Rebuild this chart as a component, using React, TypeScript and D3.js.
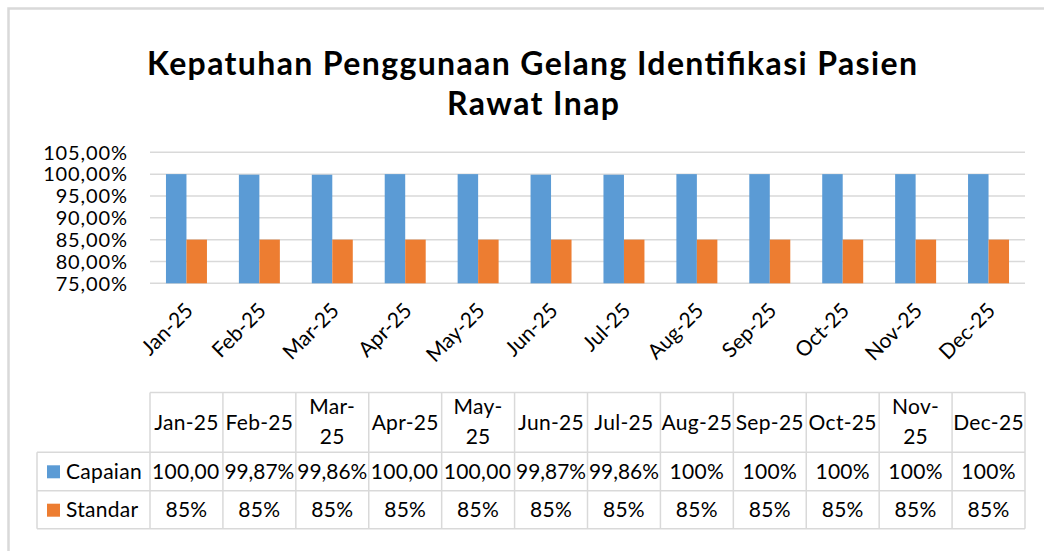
import React, { useEffect, useRef } from "react";
import * as d3 from "d3";

const title1 = "Kepatuhan Penggunaan Gelang Identifikasi Pasien";
const title2 = "Rawat Inap";
const months = ["Jan-25", "Feb-25", "Mar-25", "Apr-25", "May-25", "Jun-25", "Jul-25", "Aug-25", "Sep-25", "Oct-25", "Nov-25", "Dec-25"];
const wrappedHeaders = ["Mar-25", "May-25", "Nov-25"];
const seriesNames = ["Capaian", "Standar"];
const capaian = [100, 99.87, 99.86, 100, 100, 99.87, 99.86, 100, 100, 100, 100, 100];
const standar = [85, 85, 85, 85, 85, 85, 85, 85, 85, 85, 85, 85];
const capaianLabels = ["100,00%", "99,87%", "99,86%", "100,00%", "100,00%", "99,87%", "99,86%", "100%", "100%", "100%", "100%", "100%"];
const standarLabels = ["85%", "85%", "85%", "85%", "85%", "85%", "85%", "85%", "85%", "85%", "85%", "85%"];
const yTicks = [75, 80, 85, 90, 95, 100, 105];
const colors = ["#5b9bd5", "#ed7d31"];

const FONT = "Lato, 'Liberation Sans', sans-serif";

export default function App() {
  const ref = useRef<SVGSVGElement | null>(null);
  useEffect(() => {
    const svg = d3.select(ref.current);
    svg.selectAll("*").remove();
    const grid = "#d9d9d9";

    // chart border
    svg.append("rect").attr("x", 8.5).attr("y", 8.5).attr("width", 1100).attr("height", 600)
      .attr("fill", "#fff").attr("stroke", grid).attr("stroke-width", 2.5);

    // title
    const t = svg.append("g").attr("font-family", FONT).attr("font-weight", "bold")
      .attr("font-size", 32).attr("fill", "#000").attr("text-anchor", "middle");
    t.append("text").attr("x", 532).attr("y", 75).attr("textLength", 770).attr("lengthAdjust", "spacing").text(title1);
    t.append("text").attr("x", 533).attr("y", 115).attr("textLength", 172).attr("lengthAdjust", "spacing").text(title2);

    const x = d3.scaleBand<string>().domain(months).range([150, 1025]);
    const y = d3.scaleLinear().domain([75, 105]).range([283.3, 152.3]);
    const bw = x.bandwidth() * 0.281;

    // gridlines
    svg.append("g").selectAll("line").data(yTicks).join("line")
      .attr("x1", 150).attr("x2", 1025).attr("y1", d => y(d)).attr("y2", d => y(d))
      .attr("stroke", grid).attr("stroke-width", 1.5);

    // y labels
    svg.append("g").selectAll("text").data(yTicks).join("text")
      .attr("x", 128).attr("y", d => y(d)).attr("dy", "0.36em").attr("text-anchor", "end")
      .attr("font-family", FONT).attr("font-size", 20).attr("letter-spacing", 0.9).attr("fill", "#000")
      .text(d => d3.format(".2f")(d).replace(".", ",") + "%");

    // bars
    const series = [capaian, standar];
    series.forEach((vals, si) => {
      svg.append("g").selectAll("rect").data(months).join("rect")
        .attr("x", (m) => (x(m) as number) + x.bandwidth() / 2 - bw + si * bw)
        .attr("width", bw)
        .attr("y", (m, i) => y(vals[i]))
        .attr("height", (m, i) => y(75) - y(vals[i]))
        .attr("fill", colors[si]);
    });

    // rotated x labels
    svg.append("g").selectAll("text").data(months).join("text")
      .attr("transform", m => `translate(${(x(m) as number) + x.bandwidth() / 2 + 8},${312}) rotate(-45)`)
      .attr("text-anchor", "end").attr("font-family", FONT).attr("font-size", 21).attr("fill", "#000")
      .text(m => m);

    // data table
    const tTop = 392.5, r1 = 452.3, r2 = 490.7, r3 = 528.7, left = 37;
    const tg = svg.append("g");
    tg.append("line").attr("x1", 150).attr("x2", 1025).attr("y1", tTop).attr("y2", tTop);
    [r1, r2, r3].forEach(yy => tg.append("line").attr("x1", left).attr("x2", 1025).attr("y1", yy).attr("y2", yy));
    tg.append("line").attr("x1", left).attr("x2", left).attr("y1", r1).attr("y2", r3);
    const edges = months.map(m => x(m) as number).concat([1025]);
    edges.forEach(xx => tg.append("line").attr("x1", xx).attr("x2", xx).attr("y1", tTop).attr("y2", r3));
    tg.selectAll("line").attr("stroke", grid).attr("stroke-width", 1.5);

    const fs = 21;
    const ls = 0.3;
    // header cells
    months.forEach((m) => {
      const cx = (x(m) as number) + x.bandwidth() / 2;
      const txt = tg.append("text").attr("text-anchor", "middle").attr("font-family", FONT)
        .attr("font-size", fs).attr("letter-spacing", ls).attr("fill", "#000");
      if (wrappedHeaders.includes(m)) {
        const parts = m.split("-");
        txt.append("tspan").attr("x", cx).attr("y", 414).text(parts[0] + "-");
        txt.append("tspan").attr("x", cx).attr("y", 444).text(parts[1]);
      } else {
        txt.attr("x", cx).attr("y", 430).text(m);
      }
    });

    // row labels + legend keys
    const rows = [r1, r2];
    seriesNames.forEach((name, si) => {
      const top = rows[si];
      tg.append("rect").attr("x", 47).attr("y", top + 13).attr("width", 13).attr("height", 13).attr("fill", colors[si]);
      tg.append("text").attr("x", 66).attr("y", top + 26.5).attr("font-family", FONT).attr("font-size", fs)
        .attr("letter-spacing", ls).attr("fill", "#000").text(name);
    });

    // value cells (text far too wide is cut at the cell edge, as in the spreadsheet table)
    const labels = [capaianLabels, standarLabels];
    const bwid = x.bandwidth();
    labels.forEach((labs, si) => {
      const top = rows[si];
      months.forEach((m, i) => {
        const x0 = x(m) as number;
        const txt = tg.append("text").attr("font-family", FONT).attr("font-size", fs).attr("letter-spacing", ls)
          .attr("fill", "#000").attr("y", top + 26.5).text(labs[i]);
        const node = txt.node() as SVGTextElement;
        const w = node.getComputedTextLength();
        if (w > bwid + 5) {
          let s = labs[i];
          while (s.length > 1 && node.getComputedTextLength() > bwid - 4) {
            s = s.slice(0, -1);
            txt.text(s);
          }
          txt.attr("x", x0 + 2).attr("text-anchor", "start");
        } else if (w > bwid - 3) {
          txt.attr("letter-spacing", 0).attr("textLength", bwid - 3).attr("lengthAdjust", "spacingAndGlyphs")
            .attr("x", x0 + 1.5).attr("text-anchor", "start");
        } else {
          txt.attr("x", x0 + bwid / 2).attr("text-anchor", "middle");
        }
      });
    });
  }, []);

  return (
    <svg ref={ref} width={1044} height={551}
      style={{ position: "absolute", left: 0, top: 0, background: "#fff" }} />
  );
}
